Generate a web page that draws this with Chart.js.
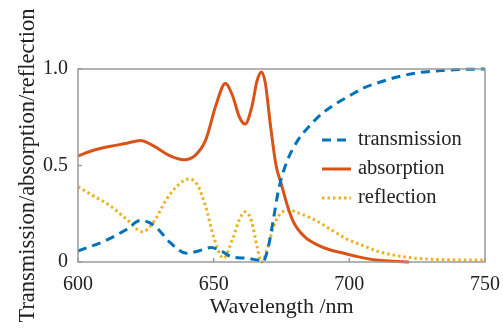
<!DOCTYPE html>
<html>
<head>
<meta charset="utf-8">
<script src="https://cdn.jsdelivr.net/npm/chart.js@4/dist/chart.umd.min.js"></script>
<style>
  html, body { margin: 0; padding: 0; background: #fff; }
  #wrap { width: 503px; height: 329px; }
</style>
</head>
<body>
<div id="wrap"><canvas id="spectrumChart" width="503" height="329"></canvas></div>
<script>
// values
const transWl   = [600, 610, 618, 623, 628, 634, 640, 645, 649, 653, 657, 662, 666, 668, 670, 672, 674, 677, 681, 685, 690, 695, 700, 705, 712, 718, 725, 732, 740, 750];
const transVal  = [0.057, 0.11, 0.17, 0.215, 0.19, 0.10, 0.045, 0.06, 0.075, 0.055, 0.025, 0.02, 0.01, 0.0, 0.07, 0.22, 0.38, 0.52, 0.63, 0.70, 0.77, 0.82, 0.86, 0.90, 0.935, 0.96, 0.98, 0.99, 0.997, 1.0];

const absWl     = [600, 606, 612, 618, 623, 628, 634, 639, 643, 647, 651, 654.3, 657, 659.5, 661.6, 664, 666, 667.6, 669, 671, 673, 675, 677, 679, 681, 684, 688, 693, 698, 703, 710, 716, 722];
const absVal    = [0.55, 0.58, 0.60, 0.615, 0.63, 0.60, 0.55, 0.53, 0.55, 0.63, 0.82, 0.925, 0.86, 0.75, 0.715, 0.80, 0.94, 0.985, 0.93, 0.70, 0.50, 0.40, 0.30, 0.22, 0.17, 0.125, 0.09, 0.062, 0.045, 0.028, 0.01, 0.004, 0.0];

const reflWl    = [600, 606, 612, 618, 623.8, 628, 632.4, 637, 640.9, 644, 647, 650, 653.6, 657, 659.5, 661.6, 664, 666, 667.6, 670, 672, 674, 677.4, 682, 687, 693, 699, 705, 711, 717, 724, 735, 750];
const reflVal   = [0.39, 0.34, 0.29, 0.22, 0.157, 0.21, 0.32, 0.40, 0.43, 0.40, 0.29, 0.13, 0.02, 0.12, 0.22, 0.26, 0.21, 0.08, 0.0, 0.08, 0.18, 0.24, 0.27, 0.25, 0.22, 0.17, 0.12, 0.085, 0.053, 0.034, 0.02, 0.012, 0.01];

const xTicks = [600, 650, 700, 750];
const yTicks = [0, 0.5, 1.0];
const yTickLabels = ['0', '0.5', '1.0'];

const seriesNames = ['transmission', 'absorption', 'reflection'];
const colors = ['#0072BD', '#D95319', '#EDB120'];

const serif = '"Liberation Serif", "DejaVu Serif", serif';

function toPoints(xs, ys) {
    return xs.map((x, i) => ({ x: x, y: ys[i] }));
}

// grey box + inward ticks + legend inside plot
const framePlugin = {
    id: 'framePlugin',
    afterDraw(chart) {
        const ctx = chart.ctx;
        const a = chart.chartArea;
        const xs = chart.scales.x, ys = chart.scales.y;
        ctx.save();
        ctx.strokeStyle = '#9a9a9a';
        ctx.lineWidth = 1.5;
        ctx.strokeRect(a.left, a.top, a.right - a.left, a.bottom - a.top);
        ctx.beginPath();
        xTicks.forEach(v => {
            const px = xs.getPixelForValue(v);
            ctx.moveTo(px, a.bottom); ctx.lineTo(px, a.bottom - 4);
        });
        yTicks.forEach(v => {
            const py = ys.getPixelForValue(v);
            ctx.moveTo(a.left, py); ctx.lineTo(a.left + 4, py);
        });
        ctx.stroke();

        // legend
        const lx = a.left + 244, ly = a.top + 71, rowH = 29;
        ctx.font = '20.5px ' + serif;
        ctx.textBaseline = 'middle';
        chart.data.datasets.forEach((ds, i) => {
            const y = ly + i * rowH;
            ctx.strokeStyle = ds.borderColor;
            ctx.lineWidth = ds.borderWidth;
            ctx.setLineDash(ds.borderDash || []);
            ctx.beginPath();
            ctx.moveTo(lx, y); ctx.lineTo(lx + 29, y);
            ctx.stroke();
            ctx.setLineDash([]);
            ctx.fillStyle = '#222';
            ctx.fillText(ds.label, lx + 36, y);
        });
        ctx.restore();
    }
};

new Chart(document.getElementById('spectrumChart'), {
    type: 'line',
    data: {
        datasets: [
            { label: seriesNames[0], data: toPoints(transWl, transVal), borderColor: colors[0], borderWidth: 3, borderDash: [9, 6], cubicInterpolationMode: 'monotone' },
            { label: seriesNames[1], data: toPoints(absWl, absVal), borderColor: colors[1], borderWidth: 3, cubicInterpolationMode: 'monotone' },
            { label: seriesNames[2], data: toPoints(reflWl, reflVal), borderColor: colors[2], borderWidth: 3, borderDash: [2.5, 3], cubicInterpolationMode: 'monotone' }
        ]
    },
    options: {
        responsive: false,
        animation: false,
        clip: false,
        elements: { point: { radius: 0 } },
        layout: { padding: { top: 69, right: 14, left: 0, bottom: 0 } },
        plugins: { legend: { display: false }, tooltip: { enabled: false } },
        scales: {
            x: {
                type: 'linear', min: 600, max: 750,
                afterBuildTicks: s => { s.ticks = xTicks.map(v => ({ value: v })); },
                afterFit: s => { s.height = 329 - 262; },
                grid: { display: false },
                border: { display: false },
                ticks: { color: '#222', padding: 3, maxRotation: 0, font: { family: serif, size: 20 } },
                title: { display: true, text: 'Wavelength /nm', color: '#222', padding: { top: 0, bottom: 9 }, font: { family: serif, size: 22 } }
            },
            y: {
                min: 0, max: 1,
                afterBuildTicks: s => { s.ticks = yTicks.map(v => ({ value: v })); },
                afterFit: s => { s.width = 78; },
                grid: { display: false },
                border: { display: false },
                ticks: {
                    color: '#222', padding: 2, font: { family: serif, size: 20 },
                    callback: (v) => { const i = yTicks.indexOf(v); return i >= 0 ? yTickLabels[i] : ''; }
                },
                title: { display: true, text: 'Transmission/absorption/reflection', color: '#222', padding: { top: 15, bottom: 0 }, font: { family: serif, size: 22.5 } }
            }
        }
    },
    plugins: [framePlugin]
});
</script>
</body>
</html>
